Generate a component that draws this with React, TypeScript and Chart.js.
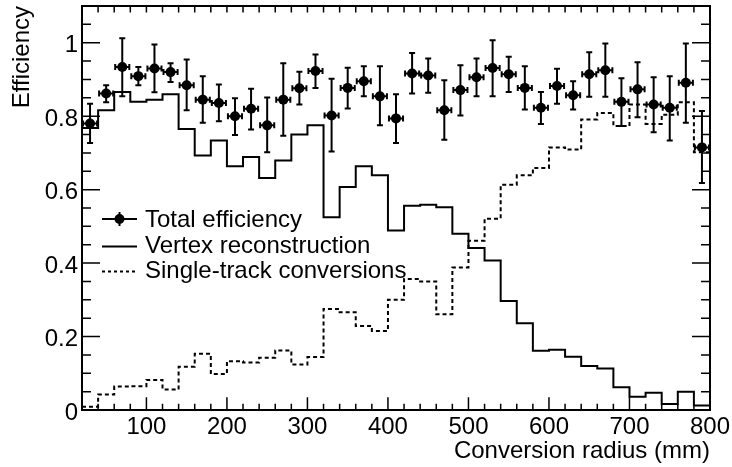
import React, { useEffect, useRef } from 'react';
import { Chart, registerables } from 'chart.js';

Chart.register(...registerables);

const FONT = '"Liberation Sans", Arial, Helvetica, sans-serif';
const FONT_SIZE = 24;

// Bin edges of the histograms (mm)
const binEdges = [20, 40, 60, 80, 100, 120, 140, 160, 180, 200, 220, 240, 260, 280, 300, 320, 340, 360, 380, 400,
  420, 440, 460, 480, 500, 520, 540, 560, 580, 600, 620, 640, 660, 680, 700, 720, 740, 760, 780, 800];
// Bin centres (mm)
const binCenters = [30, 50, 70, 90, 110, 130, 150, 170, 190, 210, 230, 250, 270, 290, 310, 330, 350, 370, 390,
  410, 430, 450, 470, 490, 510, 530, 550, 570, 590, 610, 630, 650, 670, 690, 710, 730, 750, 770, 790];

// Vertex reconstruction efficiency (solid histogram)
const vertexReco = [0.768, 0.816, 0.866, 0.839, 0.845, 0.860, 0.765, 0.693, 0.734, 0.664, 0.689, 0.632, 0.679,
  0.750, 0.775, 0.525, 0.607, 0.664, 0.639, 0.489, 0.556, 0.559, 0.552, 0.480, 0.441, 0.407, 0.297, 0.236,
  0.161, 0.164, 0.145, 0.120, 0.113, 0.062, 0.036, 0.047, 0.016, 0.050, 0.012];

// Single-track conversions (dashed histogram)
const singleTrack = [0.009, 0.042, 0.064, 0.065, 0.082, 0.056, 0.118, 0.153, 0.098, 0.133, 0.129, 0.142, 0.162,
  0.124, 0.144, 0.275, 0.266, 0.229, 0.215, 0.300, 0.357, 0.350, 0.261, 0.388, 0.461, 0.521, 0.613, 0.639,
  0.659, 0.715, 0.709, 0.791, 0.809, 0.773, 0.832, 0.779, 0.804, 0.838, 0.702];

// Total efficiency points with asymmetric errors
const totalEff = [0.780, 0.862, 0.934, 0.909, 0.930, 0.920, 0.884, 0.845, 0.836, 0.800, 0.820, 0.775, 0.845,
  0.876, 0.923, 0.802, 0.877, 0.895, 0.854, 0.794, 0.916, 0.911, 0.816, 0.871, 0.906, 0.931, 0.914, 0.877,
  0.823, 0.882, 0.857, 0.914, 0.925, 0.839, 0.873, 0.832, 0.823, 0.891, 0.715];
const totalErrUp = [0.054, 0.022, 0.078, 0.025, 0.065, 0.024, 0.070, 0.064, 0.050, 0.049, 0.055, 0.076, 0.099,
  0.045, 0.045, 0.100, 0.055, 0.041, 0.082, 0.066, 0.056, 0.046, 0.082, 0.068, 0.051, 0.076, 0.048, 0.059,
  0.043, 0.047, 0.038, 0.060, 0.073, 0.064, 0.074, 0.074, 0.086, 0.107, 0.099];
const totalErrDown = [0.053, 0.024, 0.080, 0.025, 0.065, 0.027, 0.068, 0.063, 0.050, 0.051, 0.056, 0.073, 0.098,
  0.044, 0.046, 0.098, 0.056, 0.041, 0.079, 0.067, 0.054, 0.047, 0.080, 0.069, 0.052, 0.077, 0.048, 0.059,
  0.044, 0.048, 0.039, 0.061, 0.072, 0.066, 0.076, 0.076, 0.089, 0.109, 0.097];

// Tick labels
const xLabelValues = [100, 200, 300, 400, 500, 600, 700, 800];
const yLabelValues = [0, 0.2, 0.4, 0.6, 0.8, 1];

const legendLabels = ['Total efficiency', 'Vertex reconstruction', 'Single-track conversions'];

const yLabelKeys = yLabelValues.map((v) => Math.round(v * 100));
const isXMajor = (v: number) => xLabelValues.includes(Math.round(v));
const isYMajor = (v: number) => yLabelKeys.includes(Math.round(v * 100));

const histData = (vals: number[]) => [
  ...vals.map((y, i) => ({ x: binEdges[i], y })),
  { x: binEdges[binEdges.length - 1], y: vals[vals.length - 1] },
];

const frameTicksPlugin = {
  id: 'frameTicks',
  beforeDatasetsDraw(chart: any) {
    const { ctx, chartArea: a } = chart;
    const xs = chart.scales.x;
    const ys = chart.scales.y;
    ctx.save();
    ctx.strokeStyle = '#000';
    ctx.lineWidth = 1.5;
    ctx.beginPath();
    for (const t of xs.ticks) {
      const v = t.value;
      if (v <= xs.min || v >= xs.max) continue;
      const px = xs.getPixelForValue(v);
      const len = isXMajor(v) ? 12.7 : 6.3;
      ctx.moveTo(px, a.bottom);
      ctx.lineTo(px, a.bottom - len);
      ctx.moveTo(px, a.top);
      ctx.lineTo(px, a.top + 6.5);
    }
    for (const t of ys.ticks) {
      const v = t.value;
      if (v <= ys.min || v >= ys.max) continue;
      const py = ys.getPixelForValue(v);
      const len = isYMajor(v) ? 18 : 9;
      ctx.moveTo(a.left, py);
      ctx.lineTo(a.left + len, py);
      ctx.moveTo(a.right, py);
      ctx.lineTo(a.right - len, py);
    }
    ctx.stroke();
    ctx.lineWidth = 2;
    ctx.strokeRect(a.left, a.top, a.right - a.left, a.bottom - a.top);
    ctx.restore();
  },
};

const errorBarPlugin = {
  id: 'errorBars',
  afterDatasetsDraw(chart: any) {
    const { ctx } = chart;
    const xs = chart.scales.x;
    const ys = chart.scales.y;
    ctx.save();
    ctx.strokeStyle = '#000';
    ctx.lineWidth = 2;
    ctx.beginPath();
    const cap = 3;
    binCenters.forEach((xc, i) => {
      const px = xs.getPixelForValue(xc);
      const py = ys.getPixelForValue(totalEff[i]);
      const pHi = ys.getPixelForValue(totalEff[i] + totalErrUp[i]);
      const pLo = ys.getPixelForValue(totalEff[i] - totalErrDown[i]);
      const xl = xs.getPixelForValue(binEdges[i]) + 1;
      const xr = xs.getPixelForValue(binEdges[i + 1]) - 1;
      ctx.moveTo(px, pHi);
      ctx.lineTo(px, pLo);
      ctx.moveTo(px - cap, pHi);
      ctx.lineTo(px + cap, pHi);
      ctx.moveTo(px - cap, pLo);
      ctx.lineTo(px + cap, pLo);
      ctx.moveTo(xl, py);
      ctx.lineTo(xr, py);
      ctx.moveTo(xl, py - cap);
      ctx.lineTo(xl, py + cap);
      ctx.moveTo(xr, py - cap);
      ctx.lineTo(xr, py + cap);
    });
    ctx.stroke();
    ctx.restore();
  },
};

const legendPlugin = {
  id: 'rootLegend',
  afterDraw(chart: any) {
    const { ctx } = chart;
    const x0 = 102;
    const x1 = 137;
    const tx = 145;
    const lineY = [219, 246.5, 271.5];
    const textY = [226.7, 253.3, 278.3];
    ctx.save();
    ctx.strokeStyle = '#000';
    ctx.fillStyle = '#000';
    ctx.lineWidth = 2;
    // entry 1: marker with error bars
    ctx.beginPath();
    ctx.moveTo(x0, lineY[0]);
    ctx.lineTo(x1, lineY[0]);
    const mx = (x0 + x1) / 2;
    ctx.moveTo(mx, lineY[0] - 7);
    ctx.lineTo(mx, lineY[0] + 7);
    ctx.stroke();
    ctx.beginPath();
    ctx.arc(mx, lineY[0], 5, 0, Math.PI * 2);
    ctx.fill();
    // entry 2: solid line
    ctx.beginPath();
    ctx.moveTo(x0, lineY[1]);
    ctx.lineTo(x1, lineY[1]);
    ctx.stroke();
    // entry 3: dashed line
    ctx.setLineDash([3, 3]);
    ctx.beginPath();
    ctx.moveTo(x0, lineY[2]);
    ctx.lineTo(x1, lineY[2]);
    ctx.stroke();
    ctx.setLineDash([]);
    ctx.font = `${FONT_SIZE}px ${FONT}`;
    ctx.textAlign = 'left';
    ctx.textBaseline = 'alphabetic';
    legendLabels.forEach((t, i) => ctx.fillText(t, tx, textY[i]));
    ctx.restore();
  },
};

export default function App() {
  const ref = useRef<HTMLCanvasElement>(null);

  useEffect(() => {
    if (!ref.current) return;
    const tickFont = { family: FONT, size: FONT_SIZE, lineHeight: 1.2 };
    const chart = new Chart(ref.current, {
      type: 'line',
      data: {
        datasets: [
          {
            label: legendLabels[0],
            data: binCenters.map((x, i) => ({ x, y: totalEff[i] })),
            showLine: false,
            pointRadius: 5,
            pointHoverRadius: 5,
            pointBackgroundColor: '#000',
            pointBorderColor: '#000',
            pointBorderWidth: 0,
            order: 0,
          },
          {
            label: legendLabels[1],
            data: histData(vertexReco),
            stepped: 'before',
            borderColor: '#000',
            borderWidth: 2,
            pointRadius: 0,
            fill: false,
            order: 1,
          },
          {
            label: legendLabels[2],
            data: histData(singleTrack),
            stepped: 'before',
            borderColor: '#000',
            borderWidth: 2,
            borderDash: [4, 3],
            pointRadius: 0,
            fill: false,
            order: 2,
          },
        ] as any,
      },
      options: {
        responsive: false,
        animation: false,
        devicePixelRatio: 1,
        events: [],
        layout: { padding: { top: 6, right: 22, left: 0, bottom: 0 } },
        plugins: { legend: { display: false }, tooltip: { enabled: false } },
        scales: {
          x: {
            type: 'linear',
            min: 20,
            max: 800,
            ticks: {
              stepSize: 20,
              autoSkip: false,
              maxRotation: 0,
              minRotation: 0,
              padding: 3,
              color: '#000',
              font: tickFont,
              callback: (v: any) => (isXMajor(Number(v)) ? String(Math.round(Number(v))) : ''),
            },
            grid: { display: false, drawTicks: false },
            border: { display: false },
            title: {
              display: true,
              text: 'Conversion radius (mm)',
              align: 'end',
              color: '#000',
              font: tickFont,
              padding: { top: 0, bottom: 1.5 },
            },
            afterFit: (s: any) => {
              s.height = 57;
              s.paddingLeft = 0;
              s.paddingRight = 0;
            },
          },
          y: {
            type: 'linear',
            min: 0,
            max: 1.1,
            ticks: {
              stepSize: 0.05,
              autoSkip: false,
              padding: 4,
              labelOffset: 3,
              color: '#000',
              font: tickFont,
              callback: (v: any) => {
                const n = Number(v);
                return isYMajor(n) ? String(Math.round(n * 100) / 100) : '';
              },
            },
            grid: { display: false, drawTicks: false },
            border: { display: false },
            title: {
              display: true,
              text: 'Efficiency',
              align: 'end',
              color: '#000',
              font: tickFont,
              padding: { top: 8, bottom: 0 },
            },
            afterFit: (s: any) => {
              s.width = 82;
              s.paddingTop = 0;
              s.paddingBottom = 0;
            },
          },
        },
      } as any,
      plugins: [frameTicksPlugin, errorBarPlugin, legendPlugin],
    });
    return () => chart.destroy();
  }, []);

  return (
    <div style={{ position: 'fixed', left: 0, top: 0, width: 732, height: 467, background: '#fff' }}>
      <canvas ref={ref} width={732} height={467} style={{ display: 'block' }} />
    </div>
  );
}
